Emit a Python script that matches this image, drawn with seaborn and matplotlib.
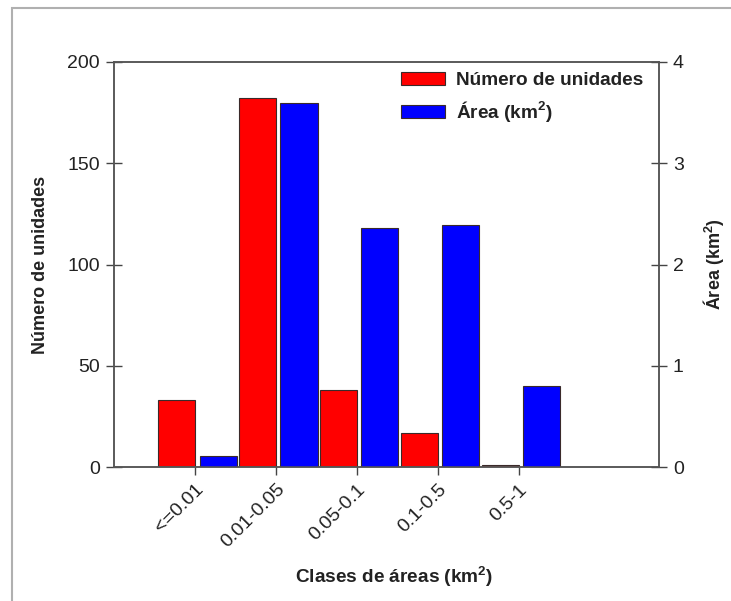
import matplotlib
matplotlib.use("Agg")
import matplotlib.pyplot as plt
import matplotlib.patches as mpatches
import numpy as np
import seaborn as sns

# data
clases = ["<=0.01", "0.01-0.05", "0.05-0.1", "0.1-0.5", "0.5-1"]
n_unidades = [33, 182, 38, 17, 1]
area_km2 = [0.11, 3.6, 2.36, 2.39, 0.8]

C_RED = "#ff0000"
C_BLUE = "#0000ff"
C_EDGE = "#3a2a2a"
C_AXIS = "#555555"

sns.set_style("ticks")
plt.rcParams.update({
    "font.family": ["Liberation Sans", "DejaVu Sans"],
    "mathtext.fontset": "custom",
    "mathtext.rm": "Liberation Sans",
    "mathtext.bf": "Liberation Sans:bold",
    "text.color": "#222222",
    "axes.labelcolor": "#222222",
    "xtick.color": "#444444",
    "ytick.color": "#444444",
    "xtick.labelcolor": "#222222",
    "ytick.labelcolor": "#222222",
})

fig = plt.figure(figsize=(7.31, 6.01), dpi=100, facecolor="white")
ax = fig.add_axes([114 / 731, 1 - 467 / 601, (659 - 114) / 731, (467 - 62) / 601])
ax2 = ax.twinx()

idx = np.arange(len(clases))
bar_w = 0.457
pos_red = idx - bar_w / 2
pos_blue = idx + 0.056 + bar_w / 2

sns.barplot(x=pos_red, y=n_unidades, native_scale=True, orient="x", width=bar_w,
            color=C_RED, saturation=1, edgecolor=C_EDGE, linewidth=0.8,
            errorbar=None, ax=ax)
sns.barplot(x=pos_blue, y=area_km2, native_scale=True, orient="x", width=bar_w,
            color=C_BLUE, saturation=1, edgecolor=C_EDGE, linewidth=0.8,
            errorbar=None, ax=ax2)

for a in (ax, ax2):
    a.set_xlim(-1.0, 5.73)
    for s in a.spines.values():
        s.set_color(C_AXIS)
        s.set_linewidth(1.1)
    a.spines["top"].set_visible(True)
    a.spines["right"].set_visible(True)

ax.set_ylim(0, 200)
ax.set_yticks([0, 50, 100, 150, 200])
ax2.set_ylim(0, 4)
ax2.set_yticks([0, 1, 2, 3, 4])

ax.set_xticks(idx)
ax.set_xticklabels(clases, rotation=45, ha="right", rotation_mode="anchor", fontsize=14)
ax.tick_params(axis="x", direction="out", length=6, width=1, pad=4)
ax.tick_params(axis="y", direction="inout", length=12, width=1, labelsize=14, pad=4)
ax2.tick_params(axis="y", direction="inout", length=12, width=1, labelsize=14, pad=4)

ax.set_xlabel(r"Clases de áreas (km$^{\mathbf{2}}$)", fontsize=13.7, fontweight="bold")
ax.xaxis.set_label_coords(0.514, -0.24)
ax.set_ylabel("Número de unidades", fontsize=13, fontweight="bold", labelpad=13)
ax2.set_ylabel(r"Área (km$^{\mathbf{2}}$)", fontsize=13, fontweight="bold", labelpad=12)

handles = [
    mpatches.Patch(facecolor=C_RED, edgecolor=C_EDGE, linewidth=0.8, label="Número de unidades"),
    mpatches.Patch(facecolor=C_BLUE, edgecolor=C_EDGE, linewidth=0.8, label=r"Área (km$^{\mathbf{2}}$)"),
]
leg = ax2.legend(handles=handles, loc="upper left", bbox_to_anchor=(401 / 731, 1 - 72 / 601),
                 bbox_transform=fig.transFigure, frameon=False, borderpad=0, borderaxespad=0,
                 handlelength=2.3, handleheight=0.65, handletextpad=0.6, labelspacing=0.55,
                 prop={"size": 13.7, "weight": "bold"})

# light frame that the original figure sits in
fig.patches.append(mpatches.Rectangle((12 / 731, -0.1), 1.2, 1 - 8 / 601 + 0.1,
                                      transform=fig.transFigure, fill=False,
                                      edgecolor="#b0b0b0", linewidth=1.5, zorder=0))

fig.savefig("out.png", dpi=100, facecolor="white")
